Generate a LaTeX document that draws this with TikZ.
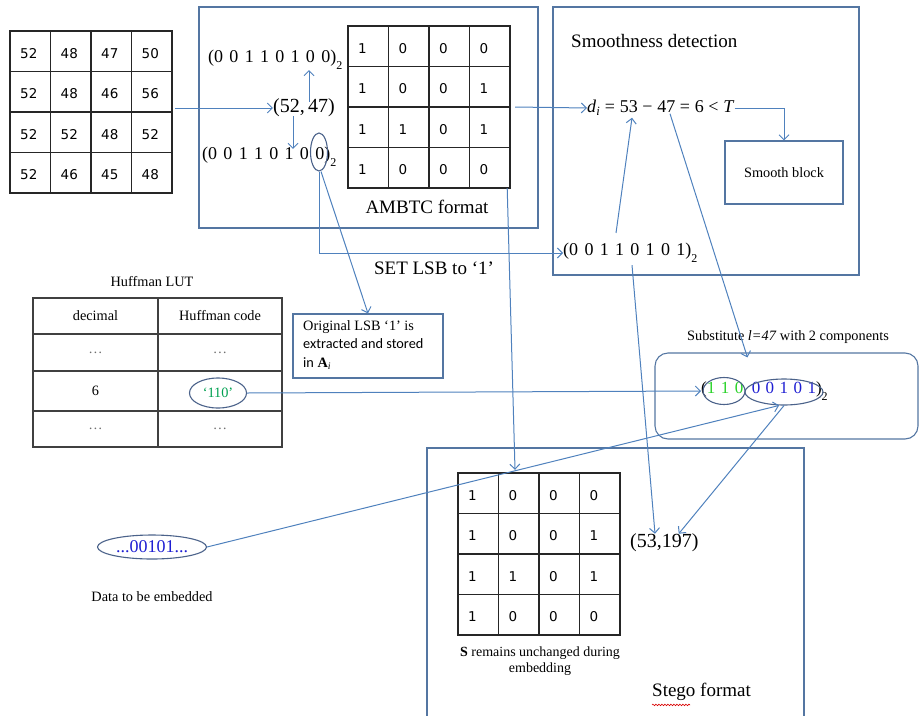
\documentclass[tikz,border=0pt]{standalone}
\usepackage{fontspec}
\setmainfont{Liberation Serif}
\newfontfamily\numfont{DejaVu Sans}
\newfontfamily\calfont{Carlito}
\usetikzlibrary{arrows.meta,shapes.geometric,decorations.pathmorphing}

\definecolor{lnblue}{RGB}{79,129,189}
\definecolor{bxblue}{RGB}{84,118,162}
\definecolor{elblue}{RGB}{75,98,138}
\definecolor{grn1}{RGB}{0,160,80}
\definecolor{grn2}{RGB}{40,210,40}
\definecolor{bluetxt}{RGB}{30,30,210}
\definecolor{dotgray}{RGB}{110,110,110}

\newcommand{\bg}{\hspace{0.35em}}
\newcommand{\sg}{\hspace{0.32em}}
\newcommand{\fgap}{\hspace{0.26em}}
\newcommand{\subtwo}{\raisebox{-0.4em}{\fontsize{12}{12}\selectfont 2}}

\tikzset{
 conn/.style={draw=lnblue, line width=1pt, -{Straight Barb[length=5pt,width=10pt]}},
 panel/.style={draw=bxblue, line width=1.1pt},
 gridln/.style={draw=black!85, line width=1.6pt},
 tabln/.style={draw=black!75, line width=1.5pt},
 cellnum/.style={font=\numfont\fontsize{13.5}{15}\selectfont, inner sep=0pt},
 lbl/.style={font=\fontsize{14.3}{17}\selectfont, inner sep=0pt},
 ttl/.style={font=\fontsize{19}{22}\selectfont, inner sep=0pt},
 binf/.style={font=\fontsize{18}{21}\selectfont, inner sep=0pt},
 bigf/.style={font=\fontsize{20}{24}\selectfont, inner sep=0pt},
 oval/.style={draw=elblue, line width=1.1pt, ellipse, inner sep=0pt},
}

\newcommand{\mygrid}[4]{%
  \node[minimum width=162pt, minimum height=162pt, inner sep=0pt] (#1) at ({#2+81},{#3+81}) {};
  \draw[gridln] (#2,#3) rectangle ({#2+162},{#3+162});
  \foreach \i in {1,2,3}{
    \draw[gridln] ({#2+\i*40.5},#3) -- ({#2+\i*40.5},{#3+162});
    \draw[gridln] (#2,{#3+\i*40.5}) -- ({#2+162},{#3+\i*40.5});
  }
  \foreach \v [count=\k from 0] in {#4}{
    \pgfmathtruncatemacro{\rr}{int(\k/4)}
    \pgfmathtruncatemacro{\cc}{mod(\k,4)}
    \node[cellnum, anchor=west] (#1-\k) at ({#2+\cc*40.5+10},{#3+(\rr+0.5)*40.5+2}) {\v};
  }
}

\begin{document}
\begin{tikzpicture}[x=1pt,y=-1pt]
\useasboundingbox (0,0) rectangle (920,715);

% ---------- panels ----------
\draw[panel] (199,7) rectangle (538,228);
\draw[panel] (553,7) rectangle (859,275);
\draw[panel] (427,720) -- (427,448) -- (804,448) -- (804,720);
\node[panel, rounded corners=13pt, minimum width=263pt, minimum height=86pt, inner sep=0pt] (subbox) at (786.5,396) {};

% ---------- matrices ----------
\mygrid{m1}{10}{31}{52,48,47,50,52,48,46,56,52,52,48,52,52,46,45,48}
\mygrid{m2}{348}{26}{1,0,0,0,1,0,0,1,1,1,0,1,1,0,0,0}
\mygrid{m3}{458}{473}{1,0,0,0,1,0,0,1,1,1,0,1,1,0,0,0}

% ---------- AMBTC panel texts ----------
\node[binf, anchor=west] (upbin) at (208,60) {(0\bg 0\bg 1\bg 1\bg 0\bg 1\bg 0\bg 0)\subtwo};
\node[bigf] (p5247) at (304,108) {(52,\,47)};
\node[binf, anchor=west] (lowbin) at (202,157) {(0\bg 0\bg 1\bg 1\bg 0\bg 1\bg 0\bg 0)\subtwo};
\node[oval, minimum width=17pt, minimum height=38pt] (lsb0) at (319,152) {};
\node[ttl] (ambtc) at (427,207) {AMBTC format};

% ---------- smoothness panel ----------
\node[ttl, anchor=west] (smtitle) at (571,41) {Smoothness detection};
\node[font=\fontsize{18}{21}\selectfont, inner sep=0pt, anchor=west] (formula) at (587,108)
  {\textit{d}\textsubscript{\textit{i}}\fgap=\fgap 53\fgap−\fgap 47\fgap=\fgap 6\fgap<\fgap\textit{T}};
\node[panel, lbl, minimum width=118pt, minimum height=63pt] (smblock) at (784,172.5) {Smooth block};
\node[binf, anchor=west] (bin2) at (563,253) {(0\bg 0\bg 1\bg 1\bg 0\bg 1\bg 0\bg 1)\subtwo};

\node[ttl] (setlsb) at (434,268) {SET LSB to ‘1’};

% ---------- Huffman LUT ----------
\node[lbl] (lut) at (152,282) {Huffman LUT};
\draw[tabln] (33,298) rectangle (282,447);
\draw[tabln] (158,298) -- (158,447);
\foreach \yy in {334,371,411} { \draw[tabln] (33,\yy) -- (282,\yy); }
\node[lbl] (hd1) at (95.5,316) {decimal};
\node[lbl] (hd2) at (220,316) {Huffman code};
\node[lbl, text=dotgray] (r1a) at (95.5,352.5) {…};
\node[lbl, text=dotgray] (r1b) at (220,352.5) {…};
\node[lbl] (r2a) at (95.5,391) {6};
\node[oval, lbl, text=grn1, minimum width=57pt, minimum height=30pt] (c110) at (218,393) {‘110’};
\node[lbl, text=dotgray] (r3a) at (95.5,429) {…};
\node[lbl, text=dotgray] (r3b) at (220,429) {…};

% ---------- LSB box ----------
\node[panel, minimum width=150pt, minimum height=64pt, inner sep=0pt] (lsbbox) at (368,346) {};
\node[anchor=north west, align=left, inner sep=0pt, font=\fontsize{14.3}{18.5}\selectfont] (lsbtxt) at (303,320)
  {Original LSB ‘1’ is\\ {\calfont extracted and stored}\\ {\calfont in} \textbf{A}\textsubscript{\textit{i}}};

% ---------- substitute ----------
\node[lbl] (subtitle) at (788,337) {Substitute \textit{l=47} with 2 components};
\node[font=\fontsize{17}{20}\selectfont, inner sep=0pt, anchor=west] (subbin) at (701,391)
  {({\color{grn2}1\sg 1\sg 0}\hspace{0.5em}{\color{bluetxt}0\sg 0\sg 1\sg 0\sg 1})\subtwo};
\node[oval, minimum width=42pt, minimum height=27pt] (greenov) at (724,391) {};
\node[oval, minimum width=78pt, minimum height=26pt] (blueov) at (784,392) {};

% ---------- stego ----------
\node[bigf, anchor=west] (p53197) at (630,543) {(53,197)};
\node[align=center, inner sep=0pt, font=\fontsize{14}{16}\selectfont] (scap) at (540,661)
  {\textbf{S} remains unchanged during\\ embedding};
\node[ttl, anchor=west] (stego) at (652,692) {Stego format};
\draw[red!85!black, line width=0.6pt, decorate, decoration={snake, amplitude=0.8pt, segment length=3pt}]
  ([yshift=-4pt]stego.south west) -- ++(38,0);

% ---------- data ----------
\node[oval, minimum width=109pt, minimum height=24pt, text=bluetxt, font=\fontsize{18}{21}\selectfont] (data) at (152,547) {...00101...};
\node[lbl] (datalbl) at (152,597) {Data to be embedded};

% ---------- connectors ----------
\draw[conn] ([xshift=3pt]m1.east |- p5247.west) -- (p5247.west);
\draw[conn] ([xshift=5pt,yshift=-3pt]p5247.north) -- ([xshift=5pt]p5247.north |- upbin.south);
\draw[conn] ([xshift=-11pt,yshift=1pt]p5247.south) -- ([xshift=-11pt,yshift=-2pt]p5247.south |- lowbin.north);
\draw[conn] (lsb0.south) |- (bin2.west);
\draw[conn] ([xshift=2pt]lsb0.south) -- (lsbbox.north);
\draw[conn] ([xshift=5pt]m2.east) -- (formula.west);
\draw[conn] ([xshift=-3pt]m2.south east) -- ([xshift=-24pt,yshift=3pt]m3.north);
\draw[conn] (formula.east) -| (smblock.north);
\draw[conn] ([xshift=53pt,yshift=10pt]bin2.north west) -- ([xshift=45pt,yshift=-2pt]formula.south west);
\draw[conn] ([xshift=83pt,yshift=2pt]formula.south west) -- ([xshift=93pt,yshift=-5pt]subbox.north west);
\draw[conn] ([xshift=69pt,yshift=-2pt]bin2.south west) -- ([xshift=25pt]p53197.north west);
\draw[conn] (c110.east) -- (subbin.west);
\draw[conn] (data.east) -- (blueov.250);
\draw[conn] (blueov.south) -- ([xshift=-20pt]p53197.north east);
\end{tikzpicture}
\end{document}
